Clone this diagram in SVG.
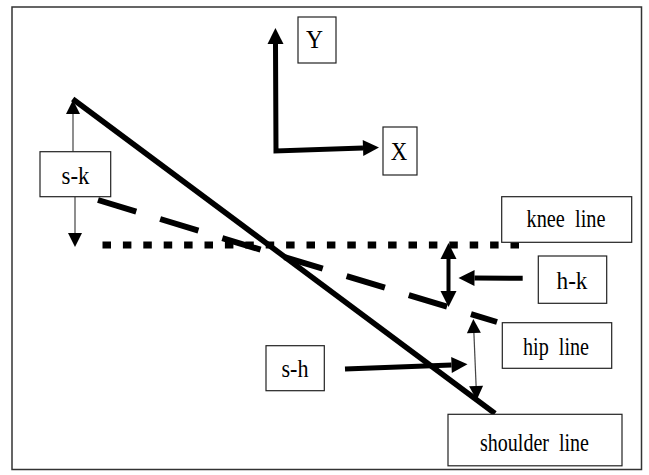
<svg xmlns="http://www.w3.org/2000/svg" width="649" height="475" viewBox="0 0 649 475">
<style>
.box{fill:#fff;stroke:#222;stroke-width:1.2}
.lbl{font-family:"Liberation Serif","Times New Roman",serif;font-size:25px;fill:#000;text-anchor:middle}
.thick{fill:none;stroke:#000;stroke-width:5;stroke-linejoin:miter}
.thin{fill:none;stroke:#444;stroke-width:1.2}
</style>
<defs>
<marker id="ah" markerUnits="userSpaceOnUse" markerWidth="16" markerHeight="16" viewBox="0 0 16 16" refX="0" refY="8" orient="auto-start-reverse" overflow="visible">
<path d="M0,0 L16,8 L0,16 z" fill="#000"/>
</marker>
<marker id="ahs" markerUnits="userSpaceOnUse" markerWidth="14" markerHeight="14" viewBox="0 0 14 14" refX="0" refY="7" orient="auto-start-reverse" overflow="visible">
<path d="M0,0 L14,7 L0,14 z" fill="#000"/>
</marker>
</defs>
<rect width="649" height="475" fill="#fff"/>
<rect x="12" y="7" width="629.5" height="462.5" fill="none" stroke="#333" stroke-width="1.5"/>
<g id="connectors">
<path id="axes" class="thick" d="M275.5,44 L276,151 L363,148" marker-start="url(#ah)" marker-end="url(#ah)"/>
<path id="shoulder-line" d="M72.7,99 L495,413.5" stroke="#000" stroke-width="5.5" fill="none"/>
<path id="knee-line" d="M98,200 L497,322" stroke="#000" stroke-width="6" stroke-dasharray="40 25" fill="none"/>
<path id="hip-dots" d="M102.5,245 L519,245" stroke="#000" stroke-width="7" stroke-dasharray="8.5 11.9" fill="none"/>
<path id="sk-up" class="thin" d="M73,151.7 L73,114" marker-end="url(#ahs)"/>
<path id="sk-down" class="thin" d="M75,197 L75,233" marker-end="url(#ahs)"/>
<path id="hk-span" d="M448.5,259 L448.5,291" stroke="#000" stroke-width="4" fill="none" marker-start="url(#ah)" marker-end="url(#ah)"/>
<path id="hk-ptr" class="thick" d="M522.7,278.3 L474.5,278" marker-end="url(#ah)"/>
<path id="sh-ptr" class="thick" d="M345,369 L451.5,364.9" marker-end="url(#ah)"/>
<path id="sh-span" class="thin" d="M473.9,333 L476.1,386" marker-start="url(#ahs)" marker-end="url(#ahs)"/>
</g>
<g id="node-Y"><rect class="box" x="298" y="17" width="38" height="46"/><text class="lbl" x="314.5" y="48" textLength="17" lengthAdjust="spacingAndGlyphs">Y</text></g>
<g id="node-X"><rect class="box" x="383" y="127" width="34" height="48"/><text class="lbl" x="399" y="160" textLength="16.5" lengthAdjust="spacingAndGlyphs">X</text></g>
<g id="node-sk"><rect class="box" x="40" y="151.7" width="70.7" height="45"/><text class="lbl" x="75.5" y="184" textLength="28" lengthAdjust="spacingAndGlyphs">s-k</text></g>
<g id="node-knee"><rect class="box" x="501.7" y="196.7" width="130" height="45.6"/><text class="lbl" x="566" y="227" textLength="79" lengthAdjust="spacingAndGlyphs" xml:space="preserve">knee  line</text></g>
<g id="node-hk"><rect class="box" x="538.3" y="256" width="68.4" height="47.3"/><text class="lbl" x="572" y="289" textLength="31" lengthAdjust="spacingAndGlyphs">h-k</text></g>
<g id="node-hip"><rect class="box" x="502.3" y="322.7" width="109.4" height="45.6"/><text class="lbl" x="556" y="355" textLength="66" lengthAdjust="spacingAndGlyphs" xml:space="preserve">hip  line</text></g>
<g id="node-sh"><rect class="box" x="266" y="345.7" width="58.3" height="45"/><text class="lbl" x="295" y="377" textLength="27" lengthAdjust="spacingAndGlyphs">s-h</text></g>
<g id="node-shoulder"><rect class="box" x="448" y="414.3" width="174" height="51.5"/><text class="lbl" x="534.5" y="451" textLength="109" lengthAdjust="spacingAndGlyphs" xml:space="preserve">shoulder  line</text></g>
</svg>
